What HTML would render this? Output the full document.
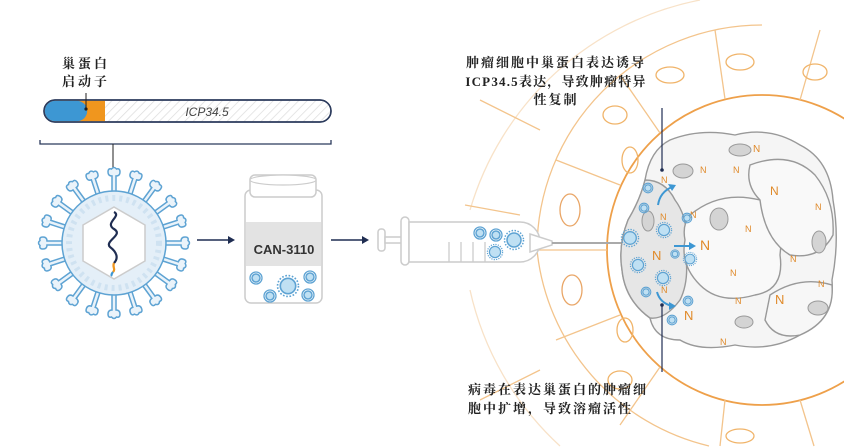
<!DOCTYPE html>
<html><head><meta charset="utf-8"><style>
html,body{margin:0;padding:0;background:#fff;width:844px;height:448px;overflow:hidden;}
svg{display:block;overflow:hidden}
.cj{font-family:"Liberation Serif","Noto Serif CJK SC","Noto Sans CJK SC",serif;font-weight:bold;fill:#222;}
</style></head><body>
<svg width="844" height="448" viewBox="0 0 844 448" xmlns="http://www.w3.org/2000/svg">
<defs>
<clipPath id="frame"><rect x="0" y="0" width="844" height="448"/></clipPath>
<pattern id="hatch" width="6" height="6" patternUnits="userSpaceOnUse" patternTransform="rotate(45)">
<rect width="6" height="6" fill="#fff"/><line x1="0" y1="0" x2="0" y2="6" stroke="#ddd" stroke-width="1.5"/>
</pattern>
<g id="spike"><path d="M-2,-50 L-2,-67 Q-6,-67 -6,-71 Q-6,-75 -2.5,-74 Q0,-77 2.5,-74 Q6,-75 6,-71 Q6,-67 2,-67 L2,-50" fill="#eaf3fa" stroke="#5ea3d3" stroke-width="1.5"/></g>
<g id="sv"><circle r="7" fill="#bfe0f3" stroke="#5ea3d3" stroke-width="1.5"/><circle r="9.5" fill="none" stroke="#5ea3d3" stroke-width="1.5" stroke-dasharray="1.5 1.5"/></g>
<g id="svs"><circle r="4" fill="#bfe0f3" stroke="#5ea3d3" stroke-width="1.5"/><circle r="6" fill="none" stroke="#5ea3d3" stroke-width="1.3"/></g>
</defs>

<text class="cj" x="62" y="68" font-size="13" letter-spacing="3">巢蛋白</text>
<text class="cj" x="62" y="86" font-size="13" letter-spacing="3">启动子</text>
<rect x="44" y="100" width="287" height="22" rx="11" fill="url(#hatch)" stroke="#2b3a5c" stroke-width="1.5"/>
<path d="M55,100.8 H105 V121.2 H55 A10.2,10.2 0 0 1 55,100.8Z" fill="#f0961e"/>
<path d="M55,100.8 H77 A10.2,10.2 0 0 1 77,121.2 H55 A10.2,10.2 0 0 1 55,100.8Z" fill="#3d97d3"/>
<rect x="44" y="100" width="287" height="22" rx="11" fill="none" stroke="#2b3a5c" stroke-width="1.5"/>
<line x1="86" y1="93" x2="86" y2="109" stroke="#222" stroke-width="1"/><circle cx="86" cy="109" r="1.6" fill="#222"/>
<text x="207" y="116" font-family="Liberation Sans,sans-serif" font-style="italic" font-size="12" fill="#444" text-anchor="middle">ICP34.5</text>
<path d="M40,140 V144 H331 V140" fill="none" stroke="#2b3a5c" stroke-width="1.3"/>
<line x1="113" y1="144" x2="113" y2="212" stroke="#222" stroke-width="1"/><circle cx="113" cy="212" r="1.7" fill="#222"/>

<g transform="translate(114,243)">
<use href="#spike" transform="rotate(0)"/><use href="#spike" transform="rotate(18)"/><use href="#spike" transform="rotate(36)"/><use href="#spike" transform="rotate(54)"/><use href="#spike" transform="rotate(72)"/><use href="#spike" transform="rotate(90)"/><use href="#spike" transform="rotate(108)"/><use href="#spike" transform="rotate(126)"/><use href="#spike" transform="rotate(144)"/><use href="#spike" transform="rotate(162)"/><use href="#spike" transform="rotate(180)"/><use href="#spike" transform="rotate(198)"/><use href="#spike" transform="rotate(216)"/><use href="#spike" transform="rotate(234)"/><use href="#spike" transform="rotate(252)"/><use href="#spike" transform="rotate(270)"/><use href="#spike" transform="rotate(288)"/><use href="#spike" transform="rotate(306)"/><use href="#spike" transform="rotate(324)"/><use href="#spike" transform="rotate(342)"/>
<circle r="52" fill="#e4eff8" stroke="#5ea3d3" stroke-width="1.5"/>
<circle r="45" fill="none" stroke="#cfe2f1" stroke-width="6" stroke-dasharray="3 4"/>
<polygon points="0,-36 31,-18 31,18 0,36 -31,18 -31,-18" fill="#fff" stroke="#ccc" stroke-width="1.5"/>
<path d="M0,-31 C8,-27 -10,-20 0,-14 C10,-8 -10,-2 -4,4 C4,10 4,16 0,20" fill="none" stroke="#1f2d52" stroke-width="2.2"/>
<path d="M0,20 C-2,24 2,26 -1,29" fill="none" stroke="#f0961e" stroke-width="2.2"/>
<path d="M-1,29 C-3,31 -2,32 -3,33" fill="none" stroke="#3d97d3" stroke-width="2.2"/>
</g>

<line x1="197" y1="240" x2="230" y2="240" stroke="#1f2d52" stroke-width="1.5"/><path d="M235,240 L228,236 L228,244Z" fill="#1f2d52"/>
<line x1="331" y1="240" x2="363" y2="240" stroke="#1f2d52" stroke-width="1.5"/><path d="M369,240 L362,236 L362,244Z" fill="#1f2d52"/>

<rect x="245" y="190" width="77" height="113" rx="6" fill="#fff" stroke="#ccc" stroke-width="1.5"/>
<rect x="250" y="175" width="66" height="22" rx="5" fill="#fff" stroke="#ccc" stroke-width="1.5"/>
<ellipse cx="283" cy="180" rx="33" ry="5" fill="#fff" stroke="#ccc" stroke-width="1.2"/>
<rect x="246" y="222" width="75" height="44" fill="#e3e3e3"/>
<text x="284" y="254" font-family="Liberation Sans,sans-serif" font-weight="bold" font-size="13" fill="#333" text-anchor="middle">CAN-3110</text>
<use href="#sv" transform="translate(288,286) scale(1.1)"/><use href="#svs" transform="translate(256,278)"/><use href="#svs" transform="translate(270,296)"/><use href="#svs" transform="translate(310,277)"/><use href="#svs" transform="translate(308,295)"/>

<g fill="none" stroke="#f0b46a" stroke-width="1.3" clip-path="url(#frame)">
<circle cx="762" cy="250" r="155" stroke="#eea04a" stroke-width="1.8"/>
<path d="M762,25 A225,225 0 0 0 537,250 A225,225 0 0 0 709,446" stroke="#f3c48c"/>
<path d="M762,0 M700,0 A300,300 0 0 0 470,210" stroke="#f8e2c8"/>
<path d="M470,290 A300,300 0 0 0 560,446" stroke="#f8e2c8"/>
<g stroke="#f3c48c">
<line x1="607" y1="250" x2="537" y2="250"/><line x1="620" y1="185" x2="556" y2="160"/><line x1="660" y1="133" x2="620" y2="75"/><line x1="725" y1="99" x2="715" y2="30"/><line x1="800" y1="100" x2="820" y2="30"/>
<line x1="620" y1="315" x2="556" y2="340"/><line x1="660" y1="367" x2="620" y2="425"/><line x1="725" y1="400" x2="720" y2="446"/><line x1="800" y1="400" x2="814" y2="446"/>
<line x1="520" y1="215" x2="465" y2="205"/><line x1="540" y1="130" x2="480" y2="100"/><line x1="540" y1="370" x2="480" y2="400"/>
</g>
<ellipse cx="570" cy="210" rx="10" ry="16" stroke="#e9a667"/><ellipse cx="572" cy="290" rx="10" ry="15" stroke="#e9a667"/><ellipse cx="615" cy="115" rx="12" ry="9"/><ellipse cx="620" cy="380" rx="12" ry="9"/><ellipse cx="740" cy="62" rx="14" ry="8"/><ellipse cx="740" cy="436" rx="14" ry="7"/><ellipse cx="630" cy="160" rx="8" ry="13"/><ellipse cx="625" cy="330" rx="8" ry="12"/><ellipse cx="815" cy="72" rx="12" ry="8"/><ellipse cx="670" cy="75" rx="14" ry="8"/>
</g>

<g fill="#fff" stroke="#ccc" stroke-width="1.5">
<rect x="378" y="229" width="7" height="22" rx="3"/>
<rect x="385" y="237" width="18" height="6"/>
<rect x="401" y="217" width="8" height="48" rx="4"/>
<path d="M409,222 H520 A20,20 0 0 1 520,262 H409Z"/>
<path d="M530,234 L552,241 L552,245 L530,252Z"/>
</g>
<line x1="552" y1="243" x2="622" y2="243" stroke="#aaa" stroke-width="2"/>
<g stroke="#ccc" stroke-width="1.3"><line x1="449" y1="242" x2="449" y2="262"/><line x1="461" y1="242" x2="461" y2="262"/><line x1="473" y1="242" x2="473" y2="262"/><line x1="485" y1="242" x2="485" y2="262"/></g>
<use href="#svs" transform="translate(480,233)"/><use href="#svs" transform="translate(496,235)"/><use href="#sv" transform="translate(514,240)"/><use href="#sv" transform="translate(495,252) scale(0.8)"/>

<g stroke="#999" stroke-width="1.4" fill="#f5f5f5">
<path d="M670,140 Q700,128 735,135 Q770,126 800,145 Q830,160 833,200 Q840,240 832,280 Q835,320 800,335 Q770,352 735,345 Q700,352 680,340 Q655,340 650,318 Q625,300 622,270 Q618,245 628,220 Q640,200 645,180 Q650,150 670,140Z"/>
<path d="M645,180 Q640,200 628,220 Q618,245 622,270 Q625,300 650,318 Q665,320 680,300 Q690,280 685,250 Q690,220 675,200 Q665,180 645,180Z" fill="#e6e6e6"/>
<path d="M690,215 Q720,190 760,200 Q785,215 780,255 Q785,290 755,295 Q720,305 700,285 Q680,265 685,240 Q682,225 690,215Z" fill="#f9f9f9"/>
<path d="M750,165 Q790,150 815,175 Q835,200 833,235 Q820,260 790,255 Q765,240 760,200 Q745,185 750,165Z" fill="#f9f9f9"/>
<path d="M770,295 Q800,275 832,285 Q835,320 800,335 Q775,340 765,320Z" fill="#f7f7f7"/>
</g>
<g fill="#d4d4d4" stroke="#999" stroke-width="1">
<ellipse cx="740" cy="150" rx="11" ry="6"/><ellipse cx="683" cy="171" rx="10" ry="7"/><ellipse cx="719" cy="219" rx="9" ry="11"/><ellipse cx="648" cy="221" rx="6" ry="10"/><ellipse cx="819" cy="242" rx="7" ry="11"/><ellipse cx="818" cy="308" rx="10" ry="7"/><ellipse cx="744" cy="322" rx="9" ry="6"/>
</g>
<g font-family="Liberation Sans,sans-serif" fill="#e08a2a" font-size="9">
<text x="753" y="152" font-size="10">N</text><text x="700" y="173">N</text><text x="733" y="173">N</text><text x="661" y="183">N</text><text x="770" y="195" font-size="12">N</text><text x="815" y="210">N</text><text x="660" y="220">N</text><text x="690" y="218">N</text><text x="745" y="232">N</text><text x="700" y="250" font-size="14">N</text><text x="652" y="260" font-size="13">N</text><text x="790" y="262">N</text><text x="730" y="276">N</text><text x="661" y="293">N</text><text x="818" y="287">N</text><text x="775" y="304" font-size="13">N</text><text x="735" y="304">N</text><text x="684" y="320" font-size="13">N</text><text x="720" y="345">N</text>
</g>
<g fill="none" stroke="#3d97d3" stroke-width="2">
<path d="M658,205 Q660,192 672,187"/><path d="M674,246 H690"/><path d="M657,292 Q660,303 672,306"/>
</g>
<g fill="#3d97d3"><path d="M676,185 L668,184 L672,191Z"/><path d="M696,246 L689,242 L689,250Z"/><path d="M676,306 L669,302 L669,310Z"/></g>
<use href="#sv" transform="translate(630,238) scale(0.9)"/><use href="#sv" transform="translate(664,230) scale(0.8)"/><use href="#sv" transform="translate(638,265) scale(0.8)"/><use href="#sv" transform="translate(663,278) scale(0.8)"/><use href="#sv" transform="translate(690,259) scale(0.7)"/>
<use href="#svs" transform="translate(648,188) scale(0.8)"/><use href="#svs" transform="translate(644,208) scale(0.8)"/><use href="#svs" transform="translate(687,218) scale(0.8)"/><use href="#svs" transform="translate(675,254) scale(0.7)"/><use href="#svs" transform="translate(646,292) scale(0.8)"/><use href="#svs" transform="translate(688,301) scale(0.8)"/><use href="#svs" transform="translate(672,320) scale(0.8)"/>

<line x1="662" y1="108" x2="662" y2="170" stroke="#1f2d52" stroke-width="1.2"/><circle cx="662" cy="170" r="1.8" fill="#1f2d52"/>
<line x1="662" y1="305" x2="662" y2="372" stroke="#1f2d52" stroke-width="1.2"/><circle cx="662" cy="305" r="1.8" fill="#1f2d52"/>

<g class="cj" font-size="13" text-anchor="middle">
<text x="556" y="67" letter-spacing="2">肿瘤细胞中巢蛋白表达诱导</text>
<text x="556" y="86" letter-spacing="1.2">ICP34.5表达，导致肿瘤特异</text>
<text x="556" y="104" letter-spacing="2">性复制</text>
</g>
<g class="cj" font-size="13">
<text x="468" y="394" letter-spacing="2">病毒在表达巢蛋白的肿瘤细</text>
<text x="468" y="413" letter-spacing="2">胞中扩增，导致溶瘤活性</text>
</g>
</svg>
</body></html>
